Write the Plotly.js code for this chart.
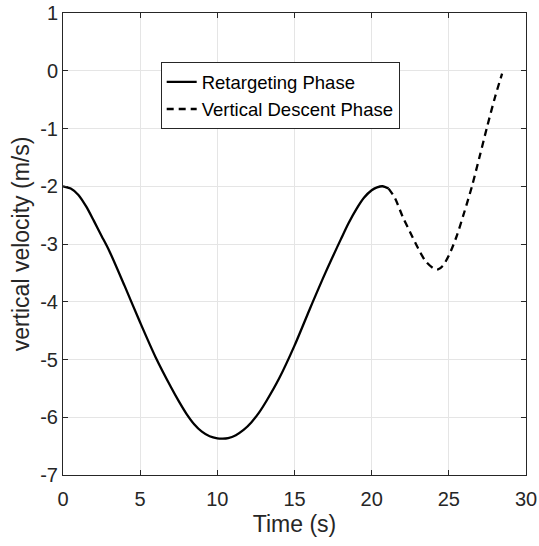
<!DOCTYPE html>
<html>
<head>
<meta charset="utf-8">
<script src="https://cdn.plot.ly/plotly-3.0.1.min.js"></script>
<style>html,body{margin:0;padding:0;background:#fff;}#chart{width:539px;height:546px;}</style>
</head>
<body>
<div id="chart"></div>
<script>
// Retargeting phase (solid)
var retargetTime = [0, 0.5, 1, 1.5, 2, 2.5, 3, 4, 5, 6, 7, 7.5, 8, 8.5, 9, 9.5, 10, 10.35, 10.7, 11.2, 11.7, 12.2, 12.7, 13.2, 14, 15, 16, 17, 18, 18.5, 19, 19.5, 20, 20.35, 20.7, 21.1];
var retargetVel  = [-2.0, -2.04, -2.15, -2.35, -2.6, -2.86, -3.12, -3.73, -4.36, -4.96, -5.48, -5.72, -5.94, -6.12, -6.25, -6.33, -6.365, -6.37, -6.36, -6.31, -6.22, -6.09, -5.92, -5.71, -5.33, -4.76, -4.12, -3.5, -2.92, -2.64, -2.4, -2.2, -2.07, -2.02, -2.0, -2.04];
// Vertical descent phase (dashed)
var descentTime = [21.1, 21.5, 22.0, 22.5, 23.0, 23.5, 24.0, 24.3, 24.6, 25.0, 25.5, 26.0, 26.5, 27.0, 27.5, 28.0, 28.45];
var descentVel  = [-2.04, -2.2, -2.52, -2.8, -3.07, -3.3, -3.42, -3.44, -3.38, -3.2, -2.87, -2.45, -2.0, -1.48, -0.95, -0.45, -0.05];
// Tick labels
var xTickVals = [0, 5, 10, 15, 20, 25, 30];
var xTickText = ["0", "5", "10", "15", "20", "25", "30"];
var yTickVals = [-7, -6, -5, -4, -3, -2, -1, 0, 1];
var yTickText = ["-7", "-6", "-5", "-4", "-3", "-2", "-1", "0", "1"];

var fontFam = '"Liberation Sans", Arial, Helvetica, sans-serif';
var txtColor = '#262626';

var traces = [
  {x: retargetTime, y: retargetVel, type: 'scatter', mode: 'lines', name: 'Retargeting Phase',
   line: {color: '#000000', width: 2.3, shape: 'spline', smoothing: 0.8}},
  {x: descentTime, y: descentVel, type: 'scatter', mode: 'lines', name: 'Vertical Descent Phase',
   line: {color: '#000000', width: 2.3, dash: '7px,5px', shape: 'spline', smoothing: 0.8}}
];

var axisCommon = {
  showgrid: true, gridcolor: '#e5e5e5', gridwidth: 1,
  zeroline: false, showline: true, linecolor: '#262626', linewidth: 1,
  mirror: 'allticks', ticks: 'inside', ticklen: 5, tickcolor: '#262626', tickwidth: 1,
  tickfont: {family: fontFam, size: 20, color: txtColor}
};

var layout = {
  width: 539, height: 546,
  margin: {l: 63, r: 13, t: 13, b: 71, pad: 0},
  paper_bgcolor: '#ffffff', plot_bgcolor: '#ffffff',
  showlegend: true,
  legend: {x: 0.211, y: 0.893, xanchor: 'left', yanchor: 'top',
    bgcolor: '#ffffff', bordercolor: '#262626', borderwidth: 1,
    font: {family: fontFam, size: 18.5, color: '#000000'}, itemwidth: 30, tracegroupgap: 0},
  xaxis: Object.assign({}, axisCommon, {
    range: [0, 30], tickvals: xTickVals, ticktext: xTickText, ticklabelstandoff: 6,
    title: {text: 'Time (s)', font: {family: fontFam, size: 23, color: txtColor}, standoff: 6}
  }),
  yaxis: Object.assign({}, axisCommon, {
    range: [-7, 1], tickvals: yTickVals, ticktext: yTickText,
    title: {text: 'vertical velocity (m/s)', font: {family: fontFam, size: 23, color: txtColor}, standoff: 4}
  })
};

Plotly.newPlot('chart', traces, layout, {displayModeBar: false, staticPlot: true});
</script>
</body>
</html>
